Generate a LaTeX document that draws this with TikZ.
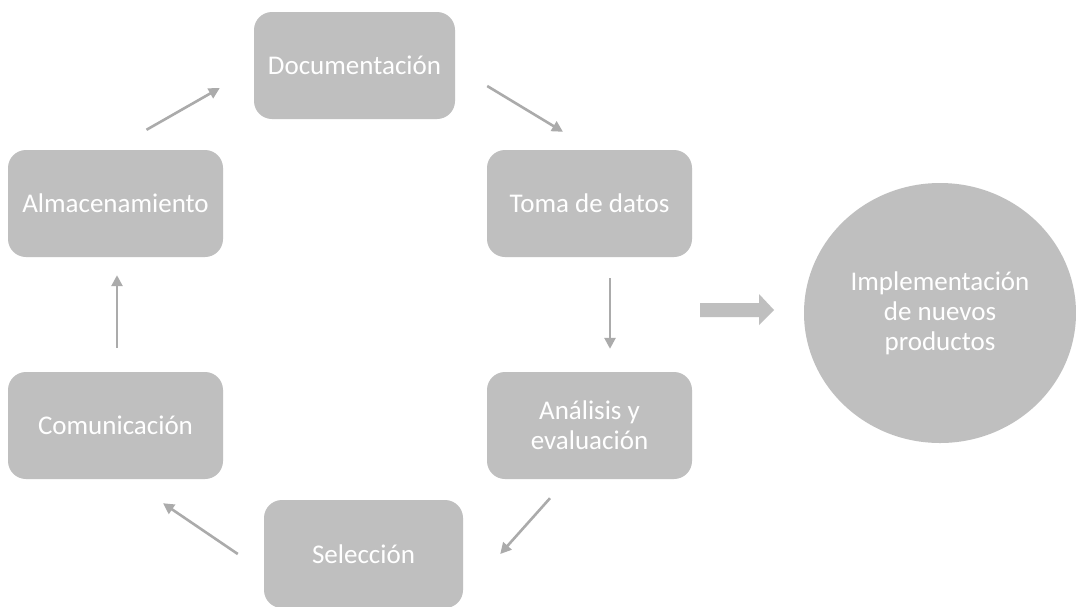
\documentclass[tikz,border=0pt]{standalone}
\usepackage{fontspec}
\setmainfont{Carlito}
\usetikzlibrary{arrows.meta,shapes.geometric}
\definecolor{boxgray}{HTML}{BFBFBF}
\definecolor{arrgray}{HTML}{ABABAB}
\begin{document}
\begin{tikzpicture}[x=1pt,y=-1pt,
  stepbox/.style={fill=boxgray, rounded corners=18pt, inner sep=0pt,
    text=white, font=\fontsize{27}{30}\selectfont, align=center},
  flow/.style={draw=arrgray, line width=2.6pt,
    -{Triangle[length=11pt,width=11pt]}}]
\useasboundingbox (0,0) rectangle (1076,606);
\fill[white] (0,0) rectangle (1076,606);

% the six stages of the cycle
\node[stepbox, minimum width=201pt, minimum height=107pt] (doc)   at (354.5,65.5) {Documentación};
\node[stepbox, minimum width=205pt, minimum height=107pt] (toma)  at (589.5,203.5) {Toma de datos};
\node[stepbox, minimum width=205pt, minimum height=107pt] (ana)   at (589.5,425.5) {Análisis y\\evaluación};
\node[stepbox, minimum width=199pt, minimum height=108pt] (sel)   at (363.5,554) {Selección};
\node[stepbox, minimum width=215pt, minimum height=107pt] (com)   at (115.5,425.5) {Comunicación};
\node[stepbox, minimum width=215pt, minimum height=107pt] (alm)   at (115.5,203.5) {Almacenamiento};

% result of the cycle
\node[ellipse, fill=boxgray, minimum width=272pt, minimum height=260pt, inner sep=0pt,
  text=white, font=\fontsize{27}{30}\selectfont, align=center] (impl) at (940,313)
  {\raisebox{-4pt}{Implementación}\\\raisebox{-4pt}{de nuevos}\\\raisebox{-4pt}{productos}};

% cycle connectors
\draw[flow] ([shift={(31,-20)}]alm.north) -- ([shift={(-34,22.5)}]doc.west);
\draw[flow] ([shift={(32,20.5)}]doc.east) -- ([shift={(-26.5,-18)}]toma.north);
\draw[flow] ([shift={(20.5,21)}]toma.south) -- ([shift={(20.5,-23)}]ana.north);
\draw[flow] ([shift={(-39.5,19)}]ana.south) -- ([shift={(37,0)}]sel.east);
\draw[flow] ([shift={(-26,0)}]sel.west) -- ([shift={(47.5,24)}]com.south);
\draw[flow] ([shift={(1.5,-24)}]com.north) -- ([shift={(1.5,18)}]alm.south);

% block arrow towards the result
\fill[boxgray] (700,303) -- (759,303) -- (759,294) -- (774,310)
  -- (759,325) -- (759,317) -- (700,317) -- cycle;
\end{tikzpicture}
\end{document}
